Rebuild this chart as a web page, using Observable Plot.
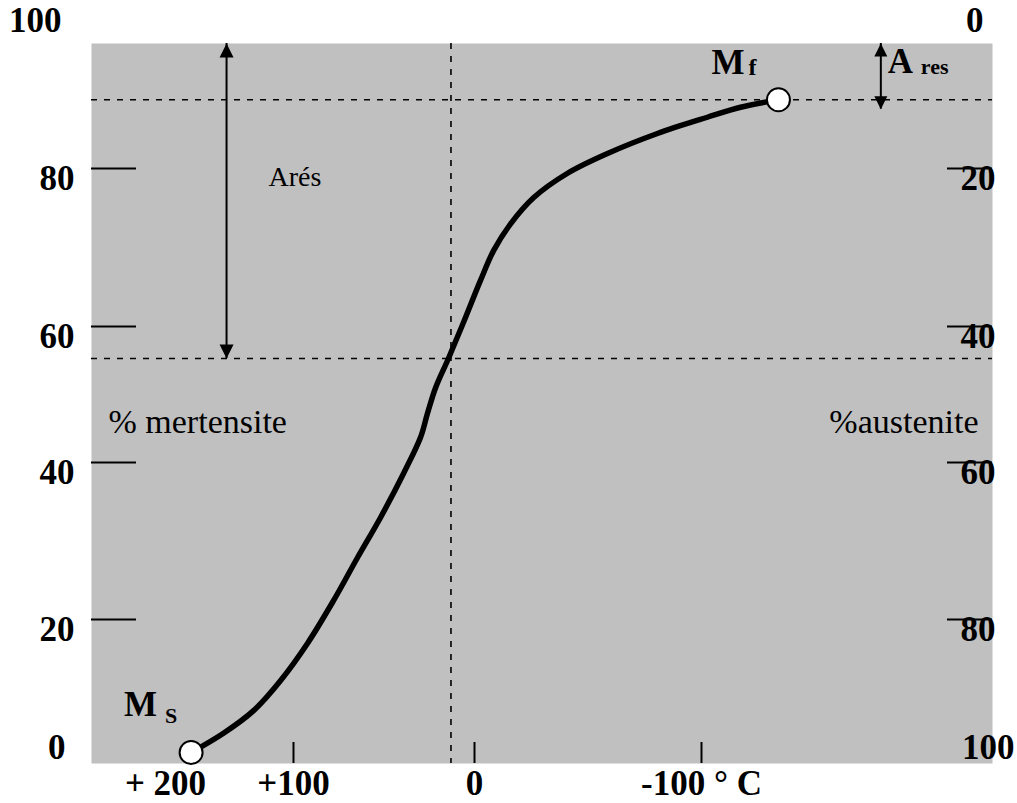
<!DOCTYPE html>
<html><head><meta charset="utf-8">
<script src="https://cdn.jsdelivr.net/npm/d3@7"></script>
<script src="https://cdn.jsdelivr.net/npm/@observablehq/plot@0.6"></script>
<style>html,body{margin:0;padding:0;background:#fff}</style>
</head><body><div id="chart"></div>
<script>
// ---- data ----
const tempC = [180, 154.7, 131.2, 110.2, 92.3, 77.9, 64.6, 51.9, 39.2, 29.8, 26.0, 21.5, 14.4, 6.1, -2.6, -8.4, -15.9, -26.0, -41.0, -58.6, -80.6, -102.6, -117.2, -133.9];
const martensitePct = [0, 2.9, 6.3, 10.8, 16.4, 22.4, 27.9, 33.0, 38.6, 43.7, 47.2, 51.0, 55.3, 60.5, 65.8, 69.6, 73.0, 76.3, 79.4, 82.4, 85.6, 88.2, 89.8, 91.0];
const endPoints = [{T: 180, M: 0, name: "Ms"}, {T: -133.9, M: 91.0, name: "Mf"}];
const tempTicks = [100, 0, -100];
const tempLabelValues = [200, 100, 0, -100];
const tempLabels = ["+ 200", "+100", "0", "-100 ° C"];
const martTicks = [20, 40, 60, 80];
const austTicks = [20, 40, 60, 80];
const martEnds = [100, 0];
const austEnds = [0, 100];
const refTempC = [13];
const refMart = [55.3, 91.0];
const aresArrow = {T: 152.3, from: 100, to: 55.3};
const resArrow = {T: -179, from: 100, to: 89.5};
const aresLabel = {T: 119.5, M: 77.8, text: "Arés"};
const axisTitleM = 44.3;

const headUp = {draw(ctx, size) { const r = Math.sqrt(size / Math.PI); ctx.moveTo(0, 0); ctx.lineTo(r, 2 * r); ctx.lineTo(-r, 2 * r); ctx.closePath(); }};
const headDown = {draw(ctx, size) { const r = Math.sqrt(size / Math.PI); ctx.moveTo(0, 0); ctx.lineTo(r, -2 * r); ctx.lineTo(-r, -2 * r); ctx.closePath(); }};

const serif = "Liberation Serif, Times New Roman, serif";
const bold = {fontFamily: serif, fontWeight: "bold", fontSize: 35, fill: "black"};
const dash = {stroke: "black", strokeWidth: 1.6, strokeDasharray: "6,7"};

const curve = tempC.map((T, i) => ({T, M: martensitePct[i]}));

const chart = Plot.plot({
  width: 1017, height: 803,
  marginTop: 43, marginBottom: 40, marginLeft: 91, marginRight: 25,
  x: {type: "linear", domain: [200, 100, 0, -100], range: [165, 293, 474, 701], axis: null},
  y: {type: "linear", domain: [0, 20, 40, 60, 80, 100], range: [752, 619, 462, 326, 168, 43], axis: null},
  style: {background: "white", fontFamily: serif},
  marks: [
    Plot.frame({fill: "#c0c0c0", stroke: "none"}),
    // dashed reference lines
    Plot.ruleX(refTempC, {x: d => d, ...dash}),
    Plot.ruleY(refMart, {y: d => d, ...dash}),
    // ticks
    Plot.ruleY(martTicks, {y: d => d, insetRight: 856, stroke: "black", strokeWidth: 2}),
    Plot.ruleY(austTicks, {y: d => 100 - d, insetLeft: 856, stroke: "black", strokeWidth: 2}),
    Plot.ruleX(tempTicks, {x: d => d, insetTop: 699, stroke: "black", strokeWidth: 2}),
    // tick labels
    Plot.text(martTicks, {y: d => d, text: d => String(d), frameAnchor: "left", textAnchor: "end", dx: -17, dy: 10, ...bold}),
    Plot.text([martEnds[0]], {y: d => d, text: d => String(d), frameAnchor: "left", textAnchor: "end", dx: -30, dy: -23, ...bold}),
    Plot.text([martEnds[1]], {y: d => d, text: d => String(d), frameAnchor: "left", textAnchor: "end", dx: -26, dy: -5, ...bold}),
    Plot.text(austTicks, {y: d => 100 - d, text: d => String(d), frameAnchor: "right", textAnchor: "end", dx: 3, dy: 10, ...bold}),
    Plot.text([austEnds[0]], {y: d => 100 - d, text: d => String(d), frameAnchor: "right", textAnchor: "end", dx: -9, dy: -23, ...bold}),
    Plot.text([austEnds[1]], {y: d => 100 - d, text: d => String(d), frameAnchor: "right", textAnchor: "end", dx: 22, dy: -5, ...bold}),
    Plot.text(tempLabelValues, {x: d => d, text: (d, i) => tempLabels[i], frameAnchor: "bottom", lineAnchor: "bottom", dy: 31, ...bold}),
    // axis titles
    Plot.text(["% mertensite"], {y: axisTitleM, text: d => d, frameAnchor: "left", textAnchor: "start", lineAnchor: "bottom", dx: 17, fontFamily: serif, fontSize: 34}),
    Plot.text(["%austenite"], {y: axisTitleM, text: d => d, frameAnchor: "right", textAnchor: "end", lineAnchor: "bottom", dx: -14, fontFamily: serif, fontSize: 34}),
    // arrows
    Plot.ruleX([aresArrow], {x: "T", y1: "from", y2: "to", stroke: "black", strokeWidth: 2}),
    Plot.dot([aresArrow], {x: "T", y: "from", symbol: headUp, r: 7, fill: "black", stroke: "none"}),
    Plot.dot([aresArrow], {x: "T", y: "to", symbol: headDown, r: 7, fill: "black", stroke: "none"}),
    Plot.ruleX([resArrow], {x: "T", y1: "from", y2: "to", stroke: "black", strokeWidth: 2}),
    Plot.dot([resArrow], {x: "T", y: "from", symbol: headUp, r: 6.5, fill: "black", stroke: "none"}),
    Plot.dot([resArrow], {x: "T", y: "to", symbol: headDown, r: 6.5, fill: "black", stroke: "none"}),
    Plot.text([aresLabel], {x: "T", y: "M", text: "text", textAnchor: "start", lineAnchor: "bottom", fontFamily: serif, fontSize: 28}),
    Plot.text([resArrow], {x: "T", y: "from", text: () => "A", textAnchor: "start", lineAnchor: "bottom", dx: 7, dy: 29, ...bold}),
    Plot.text([resArrow], {x: "T", y: "from", text: () => "res", textAnchor: "start", lineAnchor: "bottom", dx: 40, dy: 30, ...bold, fontSize: 22}),
    // curve
    Plot.line(curve, {x: "T", y: "M", curve: "catmull-rom", stroke: "black", strokeWidth: 5.5, strokeLinecap: "round", strokeLinejoin: "round"}),
    Plot.dot(endPoints, {x: "T", y: "M", r: 11.5, fill: "white", stroke: "black", strokeWidth: 2}),
    // Ms / Mf labels
    Plot.text([endPoints[0]], {x: "T", y: "M", text: () => "M", textAnchor: "start", lineAnchor: "bottom", dx: -67, dy: -37, ...bold}),
    Plot.text([endPoints[0]], {x: "T", y: "M", text: () => "S", textAnchor: "start", lineAnchor: "bottom", dx: -26, dy: -30, ...bold, fontSize: 22}),
    Plot.text([endPoints[1]], {x: "T", y: "M", text: () => "M", textAnchor: "start", lineAnchor: "bottom", dx: -67, dy: -26, ...bold}),
    Plot.text([endPoints[1]], {x: "T", y: "M", text: () => "f", textAnchor: "start", lineAnchor: "bottom", dx: -30, dy: -25, ...bold, fontSize: 24})
  ]
});
document.getElementById("chart").appendChild(chart);
</script>
</body></html>
